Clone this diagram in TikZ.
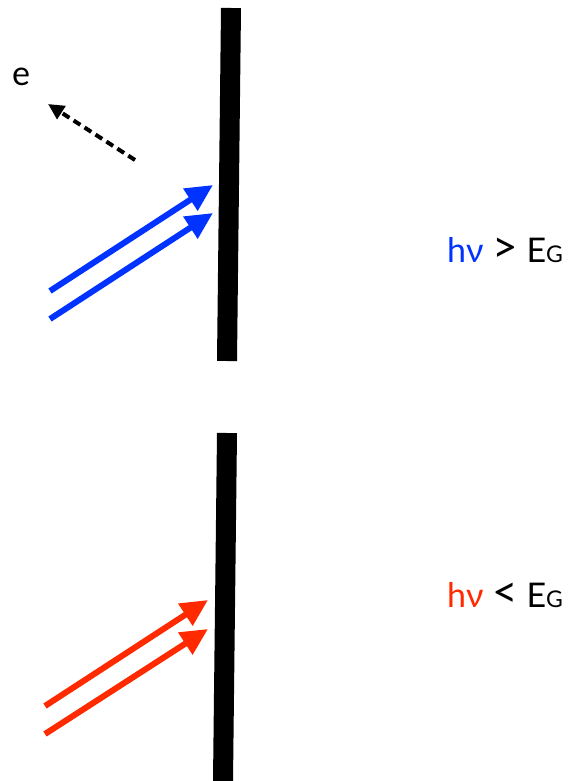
\documentclass[tikz,border=0pt]{standalone}
\usepackage{fontspec}
\setmainfont{Lato}
\usetikzlibrary{arrows.meta}
\definecolor{photonblue}{RGB}{0,51,255}
\definecolor{photonred}{RGB}{255,42,0}
\tikzset{
  barline/.style={line width=20pt, line cap=butt},
  photon/.style={line width=6pt, -{Triangle[length=27pt,width=25pt]}},
  electron/.style={line width=4pt, dash pattern=on 8pt off 5pt, -{Triangle[length=16pt,width=15pt]}},
  label/.style={font=\fontsize{34}{38}\selectfont, inner sep=0pt, anchor=base west},
}
\newcommand{\subG}{{\fontsize{23}{25}\selectfont G}}
\newcommand{\bigrel}[1]{{\fontsize{44}{46}\selectfont #1}}
\begin{document}
\begin{tikzpicture}[x=1pt,y=-1pt]
\useasboundingbox (0,0) rectangle (571,781);
% top plate
\coordinate (t1) at (231,8);
\coordinate (t2) at (227,361);
\draw[barline] (t1) -- (t2);
% bottom plate
\coordinate (b1) at (227,433);
\coordinate (b2) at (223,781);
\draw[barline] (b1) -- (b2);
% blue photons
\coordinate (bs1) at (50,291);
\coordinate (be1) at (213,185);
\coordinate (bs2) at (50,319);
\coordinate (be2) at (213,213);
\draw[photon, photonblue] (bs1) -- (be1);
\draw[photon, photonblue] (bs2) -- (be2);
% red photons
\coordinate (rs1) at (45,706);
\coordinate (re1) at (208,600);
\coordinate (rs2) at (45,734);
\coordinate (re2) at (208,629);
\draw[photon, photonred] (rs1) -- (re1);
\draw[photon, photonred] (rs2) -- (re2);
% electron
\coordinate (es) at (135,160);
\coordinate (ee) at (48,104);
\draw[electron] (es) -- (ee);
\node[label] (e) at (12,86) {e};
% labels
\node[label] (l1) at (447,262) {\textcolor{photonblue}{hν} \bigrel{>} E\subG};
\node[label] (l2) at (447,607) {\textcolor{photonred}{hν} \bigrel{<} E\subG};
\end{tikzpicture}
\end{document}
